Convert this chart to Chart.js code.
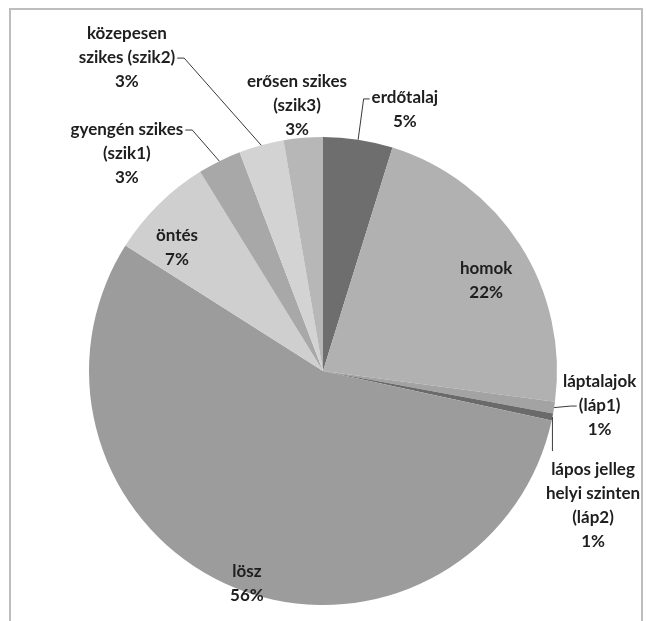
<!DOCTYPE html>
<html>
<head>
<meta charset="utf-8">
<script src="https://cdn.jsdelivr.net/npm/chart.js@4/dist/chart.umd.min.js"></script>
<style>
  html, body { margin: 0; padding: 0; background: #ffffff; }
  #wrap { position: relative; width: 646px; height: 621px; }
</style>
</head>
<body>
<div id="wrap"><canvas id="c"></canvas></div>
<script>
// ---- data ----
const categories = [
  ['erdőtalaj'],
  ['homok'],
  ['láptalajok', '(láp1)'],
  ['lápos jelleg', 'helyi szinten', '(láp2)'],
  ['lösz'],
  ['öntés'],
  ['gyengén szikes', '(szik1)'],
  ['közepesen', 'szikes (szik2)'],
  ['erősen szikes', '(szik3)']
];
const shares = [4.8, 22.3, 0.8, 0.5, 55.6, 7.2, 3.0, 3.1, 2.7];

// ---- styling / layout (not data) ----
const sliceColors = ['#6e6e6e', '#b1b1b1', '#a3a3a3', '#6a6a6a', '#9c9c9c', '#cfcfcf', '#a8a8a8', '#d3d3d3', '#b7b7b7'];
// label anchor (centre of first text line), in units of the pie radius, relative to the pie centre
const labelLayout = [
  { at: [0.350, -1.167], leader: 'left',  line: 0 },
  { at: [0.697, -0.440], leader: 'none' },
  { at: [1.182,  0.043], leader: 'left',  line: 1 },
  { at: [1.154,  0.419], leader: 'down' },
  { at: [-0.325, 0.855], leader: 'none' },
  { at: [-0.624, -0.577], leader: 'none' },
  { at: [-0.838, -1.034], leader: 'right', line: 0 },
  { at: [-0.838, -1.444], leader: 'right', line: 1 },
  { at: [-0.111, -1.239], leader: 'none' }
];
const FONT = 'bold 17px Lato, "Open Sans", sans-serif';
const LINE_H = 24;

const framePlugin = {
  id: 'frame',
  beforeDraw(chart) {
    const ctx = chart.ctx;
    ctx.save();
    ctx.fillStyle = '#ffffff';
    ctx.fillRect(0, 0, chart.width, chart.height);
    ctx.strokeStyle = '#bdbdbd';
    ctx.lineWidth = 2;
    ctx.strokeRect(10, 9, chart.width - 14, chart.height + 20);
    ctx.restore();
  }
};

const labelPlugin = {
  id: 'pieLabels',
  afterDatasetsDraw(chart) {
    const ctx = chart.ctx;
    const meta = chart.getDatasetMeta(0);
    const vals = chart.data.datasets[0].data;
    const total = vals.reduce((a, b) => a + b, 0);
    ctx.save();
    ctx.font = FONT;
    ctx.textAlign = 'center';
    ctx.textBaseline = 'middle';
    meta.data.forEach((arc, i) => {
      const R = arc.outerRadius;
      const cx = arc.x, cy = arc.y;
      const lay = labelLayout[i];
      const tx = cx + lay.at[0] * R;
      const ty = cy + lay.at[1] * R;
      const lines = categories[i].concat([Math.round(vals[i] / total * 100) + '%']);
      ctx.fillStyle = '#1e1e1e';
      lines.forEach((t, k) => ctx.fillText(t, tx, ty + k * LINE_H));
      // leader line to the slice edge
      const mid = (arc.startAngle + arc.endAngle) / 2;
      const ex = cx + Math.cos(mid) * R;
      const ey = cy + Math.sin(mid) * R;
      ctx.strokeStyle = '#3a3a3a';
      ctx.lineWidth = 1;
      if (lay.leader === 'left' || lay.leader === 'right') {
        const ln = lines[lay.line];
        const w = ctx.measureText(ln).width;
        const ly = ty + lay.line * LINE_H + 1;
        const sx = lay.leader === 'left' ? tx - w / 2 - 2 : tx + w / 2 + 2;
        const bx = lay.leader === 'left' ? sx - 6 : sx + 7;
        ctx.beginPath();
        ctx.moveTo(sx, ly);
        ctx.lineTo(bx, ly);
        ctx.lineTo(ex, ey);
        ctx.stroke();
      } else if (lay.leader === 'down') {
        ctx.beginPath();
        ctx.moveTo(ex, ey);
        ctx.lineTo(ex, ty - 18);
        ctx.stroke();
      }
    });
    ctx.restore();
  }
};

new Chart(document.getElementById('c'), {
  type: 'pie',
  data: {
    labels: categories,
    datasets: [{
      data: shares,
      backgroundColor: sliceColors,
      borderWidth: 0
    }]
  },
  options: {
    responsive: true,
    maintainAspectRatio: false,
    animation: false,
    layout: { padding: { top: 137, bottom: 16, left: 89, right: 89 } },
    plugins: {
      legend: { display: false },
      tooltip: { enabled: false }
    }
  },
  plugins: [framePlugin, labelPlugin]
});
</script>
</body>
</html>
